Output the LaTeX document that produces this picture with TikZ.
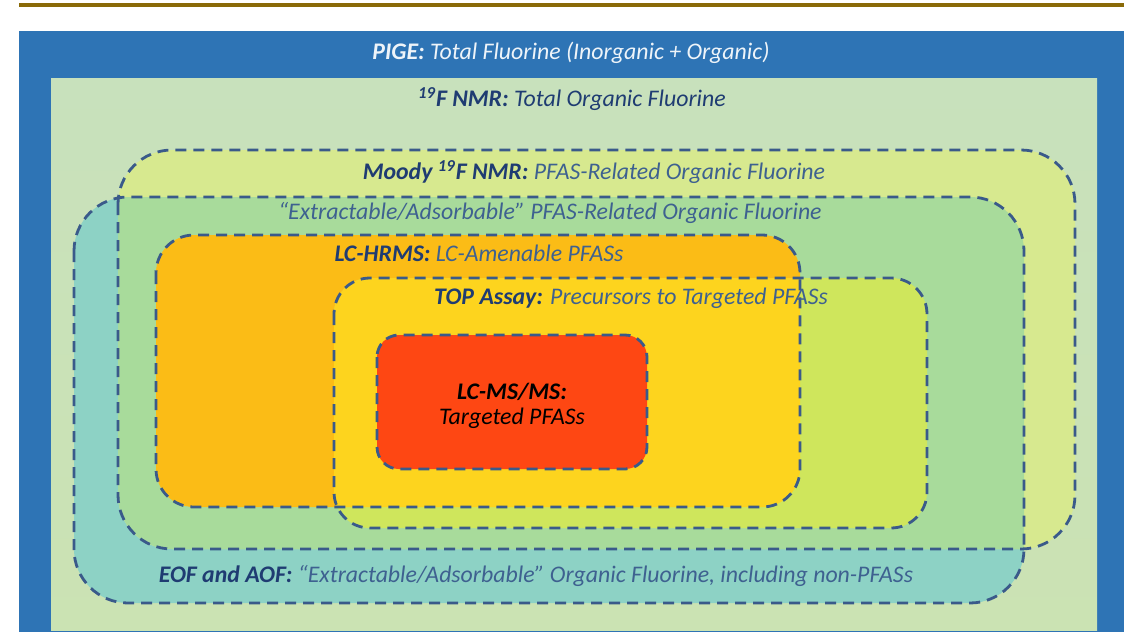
\documentclass[tikz,border=0pt]{standalone}
\usepackage{fontspec}
\setmainfont{Carlito}
\usepackage{tikz}

\definecolor{goldline}{HTML}{8A6A08}
\definecolor{pigeblue}{HTML}{2E74B5}
\definecolor{nmrgreen}{HTML}{C8E1BC}
\definecolor{moodyfill}{HTML}{D7E98F}
\definecolor{eoffill}{HTML}{8DD2C5}
\definecolor{extrfill}{HTML}{A8DB9B}
\definecolor{hrmsfill}{HTML}{FBBC16}
\definecolor{topfill}{HTML}{CFE65C}
\definecolor{bothfill}{HTML}{FDD41E}
\definecolor{targfill}{HTML}{FE4713}
\definecolor{dashcol}{HTML}{3A5A8A}
\definecolor{boldcol}{HTML}{1F3C72}
\definecolor{txtcol}{HTML}{3E6190}

\begin{document}
\begin{tikzpicture}[x=0.5pt, y=-0.5pt,
	outline/.style={draw=dashcol, line width=1.4pt, dash pattern=on 5.5pt off 3.5pt},
	lbl/.style={font=\fontsize{11.9}{12.5}\selectfont\itshape, text=txtcol, inner sep=0pt},
	]
				\useasboundingbox (0,0) rectangle (1124,632);
				\fill[white] (0,0) rectangle (1124,632);
				\fill[goldline] (19,3) rectangle (1124,7);
				\fill[pigeblue] (19,31) rectangle (1124,632);
				\fill[top color=nmrgreen, bottom color=nmrgreen!80!moodyfill] (51,78) rectangle (1097,630);
				\fill[eoffill, rounded corners=27pt] (74,197) rectangle (1024,603);
				\fill[moodyfill, rounded corners=27pt] (118,150) rectangle (1075,549);
				\begin{scope}
					\clip[rounded corners=27pt] (74,197) rectangle (1024,603);
					\fill[extrfill, rounded corners=27pt] (118,150) rectangle (1075,549);
				\end{scope}
				\fill[hrmsfill, rounded corners=19pt] (156,235) rectangle (800,507);
				\fill[topfill, rounded corners=18pt] (334,278) rectangle (927,528);
				\begin{scope}
					\clip[rounded corners=19pt] (156,235) rectangle (800,507);
					\fill[bothfill, rounded corners=18pt] (334,278) rectangle (927,528);
				\end{scope}
				\fill[targfill, rounded corners=11pt] (377,335) rectangle (647,469);
				\draw[outline, rounded corners=27pt] (74,197) rectangle (1024,603);
				\draw[outline, rounded corners=27pt] (118,150) rectangle (1075,549);
				\draw[outline, rounded corners=19pt] (156,235) rectangle (800,507);
				\draw[outline, rounded corners=18pt] (334,278) rectangle (927,528);
				\draw[outline, rounded corners=11pt] (377,335) rectangle (647,469);
				\node[lbl, text=white!92!pigeblue] (pige) at (571,53) {\textbf{PIGE:} Total Fluorine (Inorganic + Organic)};
				\node[lbl, text=boldcol] (nmr) at (572,99) {\textbf{\textsuperscript{19}F NMR:} Total Organic Fluorine};
				\node[lbl] (moody) at (594,172) {\textcolor{boldcol}{\textbf{Moody \textsuperscript{19}F NMR:}} PFAS-Related Organic Fluorine};
				\node[lbl] (extr) at (550,213) {“Extractable/Adsorbable” PFAS-Related Organic Fluorine};
				\node[lbl] (hrms) at (479,253) {\textcolor{boldcol}{\textbf{LC-HRMS:}} LC-Amenable PFASs};
				\node[lbl] (topa) at (631,298) {\textcolor{boldcol}{\textbf{TOP Assay:}} Precursors to Targeted PFASs};
				\node[lbl, text=black, align=center] (targ) at (512,406) {\textbf{LC-MS/MS:}\\Targeted PFASs};
				\node[lbl] (eof) at (536,576) {\textcolor{boldcol}{\textbf{EOF and AOF:}} “Extractable/Adsorbable” Organic Fluorine, including non-PFASs};
			\end{tikzpicture}
\end{document}
